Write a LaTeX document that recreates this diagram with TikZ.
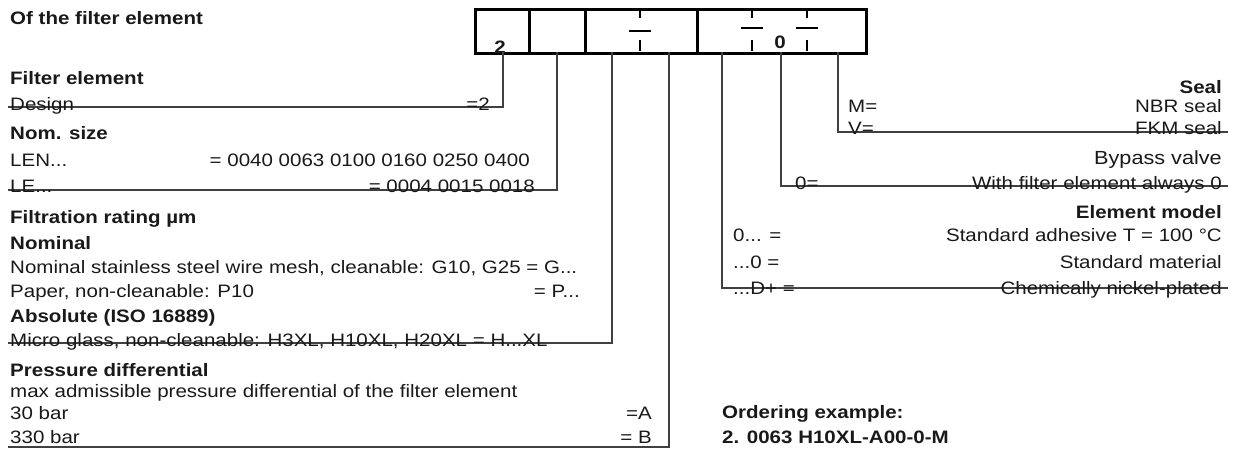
\documentclass[tikz,border=0pt]{standalone}
\usepackage{fontspec}
\setmainfont{Liberation Sans}[FakeStretch=1.14]
\begin{document}
\begin{tikzpicture}[x=1pt,y=-1pt,
  txt/.style={font=\fontsize{18}{20}\selectfont, inner sep=0pt, anchor=base west, text=black!90},
  hd/.style={txt, font=\fontsize{18}{20}\selectfont\bfseries},
  rtxt/.style={txt, anchor=base east},
  rhd/.style={hd, anchor=base east},
  cell/.style={draw, line width=2.5pt, inner sep=0pt, minimum height=44pt, anchor=north west},
  lead/.style={draw=black!75, line width=1.8pt},
  sepmark/.style={line width=2pt}
]
\useasboundingbox (0,0) rectangle (1241,450);
% code box
\node[cell, minimum width=54pt] (b1) at (474,8) {};
\node[cell, minimum width=56pt] (b2) at (528,8) {};
\node[cell, minimum width=112pt] (b3) at (584,8) {};
\node[cell, minimum width=169pt] (b4) at (696,8) {};
\node[hd, anchor=center] (two) at (500,47) {2};
\node[hd, anchor=center] (zero) at (780,42) {0};
\foreach \x/\yd in {640/31, 752/28, 807/28}{
  \draw[sepmark] (\x,9) -- (\x,18);
  \draw[sepmark] (\x-11,\yd) -- (\x+11,\yd);
  \draw[sepmark] (\x,40) -- (\x,51);
}
% leader coordinates at box bottom
\coordinate (t1) at (503,52);
\coordinate (t2) at (557,52);
\coordinate (t3) at (612,52);
\coordinate (t4) at (669,52);
\coordinate (t5) at (722,52);
\coordinate (t6) at (781,52);
\coordinate (t7) at (838,52);
% leader ends
\coordinate (e1) at (8,107);
\coordinate (e2) at (8,190);
\coordinate (e3) at (8,343);
\coordinate (e4) at (8,447);
\coordinate (e5) at (1228,288);
\coordinate (e6) at (1228,186);
\coordinate (e7) at (1228,132);
\draw[lead] (t1) |- (e1);
\draw[lead] (t2) |- (e2);
\draw[lead] (t3) |- (e3);
\draw[lead] (t4) |- (e4);
\draw[lead] (t5) |- (e5);
\draw[lead] (t6) |- (e6);
\draw[lead] (t7) |- (e7);
% left texts
\node[hd] (ofthe) at (10,24) {Of the filter element};
\node[hd] (fe) at (10,84) {Filter element};
\node[txt] (design) at (10,110) {Design};
\node[rtxt] (design2) at (490,110) {=2};
\node[hd] (nom) at (10,139) {Nom. size};
\node[txt] (len) at (10,166) {LEN...};
\node[rtxt] (len2) at (530,166) {= 0040 0063 0100 0160 0250 0400};
\node[txt] (le) at (10,192) {LE...};
\node[rtxt] (le2) at (535,192) {= 0004 0015 0018};
\node[hd] (filt) at (10,223) {Filtration rating µm};
\node[hd] (nomi) at (10,249) {Nominal};
\node[txt] (nss) at (10,273) {Nominal stainless steel wire mesh, cleanable: G10, G25 = G...};
\node[txt] (pap) at (10,297) {Paper, non-cleanable: P10};
\node[rtxt] (pap2) at (580,297) {= P...};
\node[hd] (abs) at (10,322) {Absolute (ISO 16889)};
\node[txt] (micro) at (10,346) {Micro glass, non-cleanable: H3XL, H10XL, H20XL = H...XL};
\node[hd] (pd) at (10,376) {Pressure differential};
\node[txt] (maxa) at (10,397) {max admissible pressure differential of the filter element};
\node[txt] (b30) at (10,419) {30 bar};
\node[rtxt] (b30b) at (652,419) {=A};
\node[txt] (b330) at (10,443) {330 bar};
\node[rtxt] (b330b) at (652,443) {= B};
% right texts
\node[rhd] (seal) at (1222,93) {Seal};
\node[txt] (m) at (848,112) {M=};
\node[rtxt] (nbr) at (1222,112) {NBR seal};
\node[txt] (v) at (848,134) {V=};
\node[rtxt] (fkm) at (1222,134) {FKM seal};
\node[rtxt, font=\fontsize{19}{21}\selectfont] (byp) at (1222,164) {Bypass valve};
\node[txt] (z) at (795,189) {0=};
\node[rtxt] (wfe) at (1222,189) {With filter element always 0};
\node[rhd] (em) at (1222,218) {Element model};
\node[txt] (em1) at (733,241) {0... =};
\node[rtxt] (em1b) at (1222,241) {Standard adhesive T = 100 °C};
\node[txt] (em2) at (733,268) {...0 =};
\node[rtxt] (em2b) at (1222,268) {Standard material};
\node[txt] (em3) at (733,294) {...D+ =};
\node[rtxt] (em3b) at (1222,294) {Chemically nickel-plated};
% ordering example
\node[hd] (ord) at (722,418) {Ordering example:};
\node[hd] (ord2) at (722,443) {2. 0063 H10XL-A00-0-M};
\end{tikzpicture}
\end{document}
